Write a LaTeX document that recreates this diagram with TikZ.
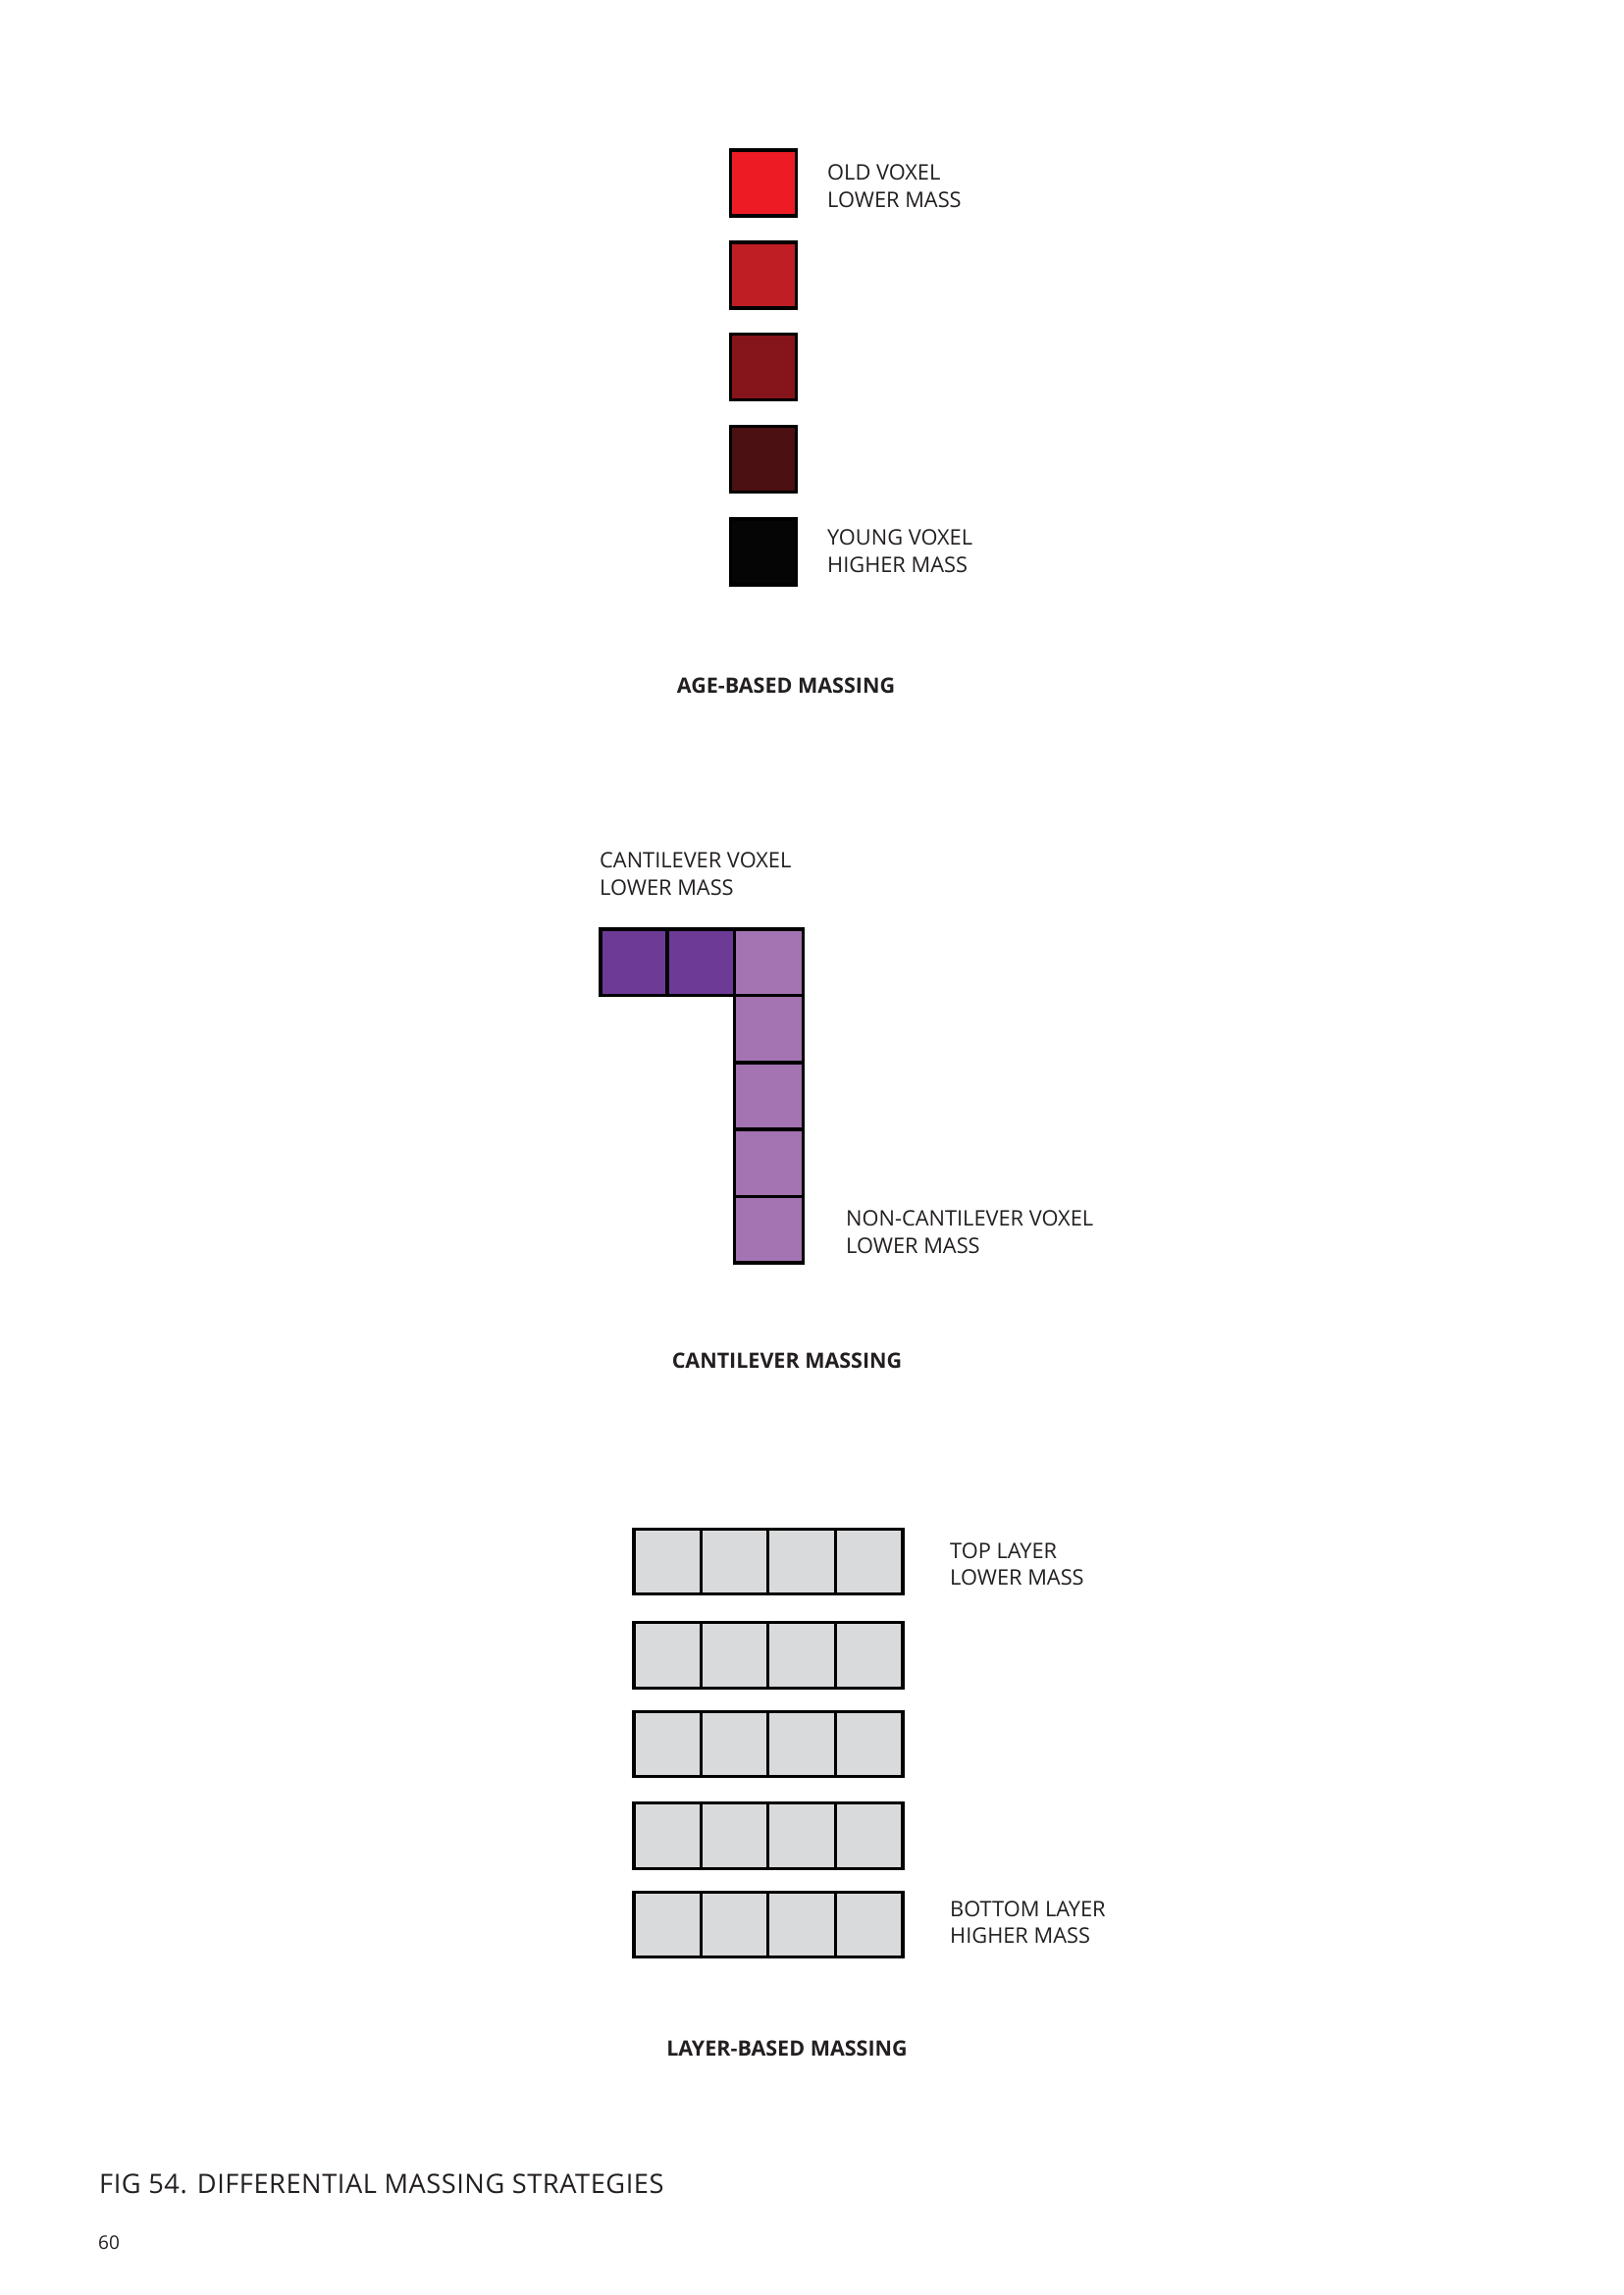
\documentclass[tikz,border=0pt]{standalone}
\usepackage{fontspec}
\setmainfont{Open Sans}
\newfontfamily\capfont[LetterSpace=2]{Open Sans}
\definecolor{txt}{HTML}{231F20}
\definecolor{redA}{HTML}{ED1C24}
\definecolor{redB}{HTML}{BE1E24}
\definecolor{redC}{HTML}{85151A}
\definecolor{redD}{HTML}{4A1012}
\definecolor{redE}{HTML}{050505}
\definecolor{purD}{HTML}{6D3A96}
\definecolor{purL}{HTML}{A373B2}
\definecolor{grayC}{HTML}{D9DADC}
\tikzset{
  cell/.style={draw=black, line width=3.2pt, inner sep=0pt, outer sep=0pt},
  agebox/.style={cell, minimum width=67pt, minimum height=67pt},
  cantbox/.style={cell, minimum width=68.5pt, minimum height=67.5pt},
  laybox/.style={cell, fill=grayC, minimum width=68.5pt, minimum height=66.5pt},
  lbl/.style={anchor=base west, inner sep=0pt, text=txt, font=\fontsize{21.8}{28}\selectfont, align=left},
  ttl/.style={anchor=base, inner sep=0pt, text=txt, font=\fontsize{21.5}{24}\selectfont\bfseries},
}
\begin{document}
\begin{tikzpicture}[x=1pt,y=-1pt]
\useasboundingbox (0,0) rectangle (1654,2339);
% age-based
\node[agebox, fill=redA] (a1) at (778,186.5) {};
\node[agebox, fill=redB] (a2) at (778,280.5) {};
\node[agebox, fill=redC] (a3) at (778,374) {};
\node[agebox, fill=redD] (a4) at (778,468) {};
\node[agebox, fill=redE] (a5) at (778,562.5) {};
\node[lbl] (la1) at (843,183) {OLD VOXEL};
\node[lbl] (la2) at (843,211) {LOWER MASS};
\node[lbl] (la3) at (843,555) {YOUNG VOXEL};
\node[lbl] (la4) at (843,583) {HIGHER MASS};
\node[ttl] (ta) at (801,706) {AGE-BASED MASSING};
% cantilever
\node[lbl] (lc1) at (611,884) {CANTILEVER VOXEL};
\node[lbl] (lc2) at (611,912) {LOWER MASS};
\node[cantbox, fill=purD] (c1) at (646.2,980.7) {};
\node[cantbox, fill=purD] (c2) at (714.2,980.7) {};
\node[cantbox, fill=purL, minimum width=70pt] (c3) at (783.2,980.7) {};
\node[cantbox, fill=purL, minimum width=70pt] (c4) at (783.2,1048.5) {};
\node[cantbox, fill=purL, minimum width=70pt] (c5) at (783.2,1117) {};
\node[cantbox, fill=purL, minimum width=70pt] (c6) at (783.2,1185.5) {};
\node[cantbox, fill=purL, minimum width=70pt] (c7) at (783.2,1253.2) {};
\node[lbl] (lc3) at (862,1249) {NON-CANTILEVER VOXEL};
\node[lbl] (lc4) at (862,1277) {LOWER MASS};
\node[ttl] (tc) at (802,1394) {CANTILEVER MASSING};
% layer-based
\foreach \r/\y in {1/1591.5,2/1687,3/1777.5,4/1871,5/1961.5}{
  \foreach \c/\x in {1/680.2,2/748.5,3/817,4/885.7}{
    \node[laybox] (l\r\c) at (\x,\y) {};
  }
}
\node[lbl] (ll1) at (968,1588) {TOP LAYER};
\node[lbl] (ll2) at (968,1615) {LOWER MASS};
\node[lbl] (ll3) at (968,1953) {BOTTOM LAYER};
\node[lbl] (ll4) at (968,1980) {HIGHER MASS};
\node[ttl] (tl) at (802,2095) {LAYER-BASED MASSING};
% caption
\node[anchor=base west, inner sep=0pt, text=txt, font=\capfont\fontsize{27.2}{30}\selectfont] (cap) at (101,2235) {FIG 54. DIFFERENTIAL MASSING STRATEGIES};
\node[anchor=base west, inner sep=0pt, text=txt, font=\fontsize{19}{22}\selectfont] (pg) at (100,2292) {60};
\end{tikzpicture}
\end{document}
